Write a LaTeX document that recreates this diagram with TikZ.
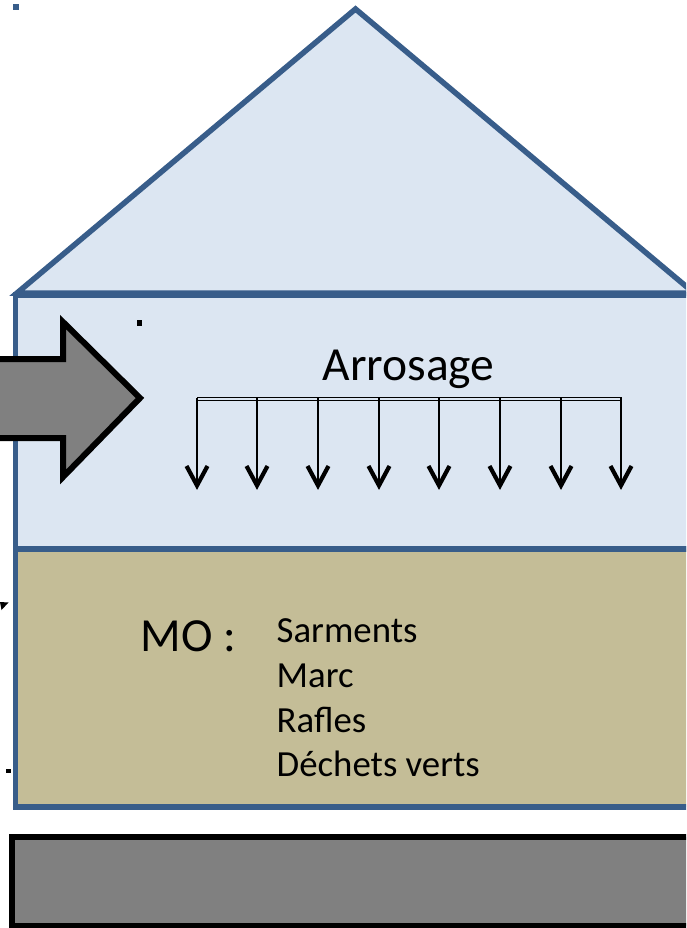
\documentclass[tikz,border=0pt]{standalone}
\usepackage{fontspec}
\setmainfont{Carlito}
\definecolor{wallblue}{HTML}{DCE6F2}
\definecolor{edgeblue}{HTML}{385D8A}
\definecolor{soil}{HTML}{C4BD97}
\definecolor{slab}{HTML}{808080}
\tikzset{
  house/.style={draw=edgeblue, line width=5.5pt, line join=miter},
  drip/.style={line width=1.6pt},
  vtip/.style={line width=4.2pt, line join=miter, miter limit=10},
  bigtxt/.style={inner sep=0pt, font=\fontsize{47.5}{57}\selectfont},
  listtxt/.style={inner sep=0pt, anchor=base west, font=\fontsize{36.8}{44}\selectfont},
}
\begin{document}
\begin{tikzpicture}[x=1pt,y=-1pt]
\useasboundingbox (0,0) rectangle (686,928);
\clip (0,0) rectangle (686,928);
% roof
\draw[house, fill=wallblue] (17,293) -- (355.5,9) -- (694,293) -- cycle;
% wall
\draw[house, fill=wallblue] (15.5,295) rectangle (705,549);
% soil
\draw[house, fill=soil] (15.5,549) rectangle (705,807);
% slab
\draw[line width=6pt, fill=slab] (12,836.5) rectangle (705,925.5);
% big arrow
\draw[line width=6pt, fill=slab, line join=miter]
  (-10,359) -- (63,359) -- (63,322) -- (140,398) -- (63,477) -- (63,438) -- (-10,438) -- cycle;
% dots
\fill[edgeblue] (13,4) rectangle (19,10);
\fill[black] (137,320) rectangle (142,326);
\fill[black] (6,769) rectangle (11,773);
\fill[black] (0,602) -- (8.5,602.5) -- (1.5,610) -- cycle;
% sprinkler
\draw[line width=1pt] (197,397.5) -- (622,397.5);
\draw[line width=1pt] (197,400.5) -- (622,400.5);
\foreach \i/\x in {1/197,2/257,3/318,4/379,5/439,6/500,7/561,8/621}{
  \coordinate (s\i) at (\x,397.5);
  \coordinate (e\i) at (\x,484);
  \draw[drip] (s\i) -- (e\i);
  \draw[vtip] (\x-10.5,466) -- (\x,485.5) -- (\x+10.5,466);
}
% texts
\node[bigtxt, anchor=base] (arr) at (408.5,380) {Arrosage};
\node[bigtxt, anchor=base west] (mo) at (140.5,651.7) {MO :};
\node[listtxt] (l1) at (276.5,642.7) {Sarments};
\node[listtxt] (l2) at (276.5,687.4) {Marc};
\node[listtxt] (l3) at (276.5,732.1) {Rafles};
\node[listtxt] (l4) at (276.5,776.8) {Déchets verts};
\end{tikzpicture}
\end{document}
